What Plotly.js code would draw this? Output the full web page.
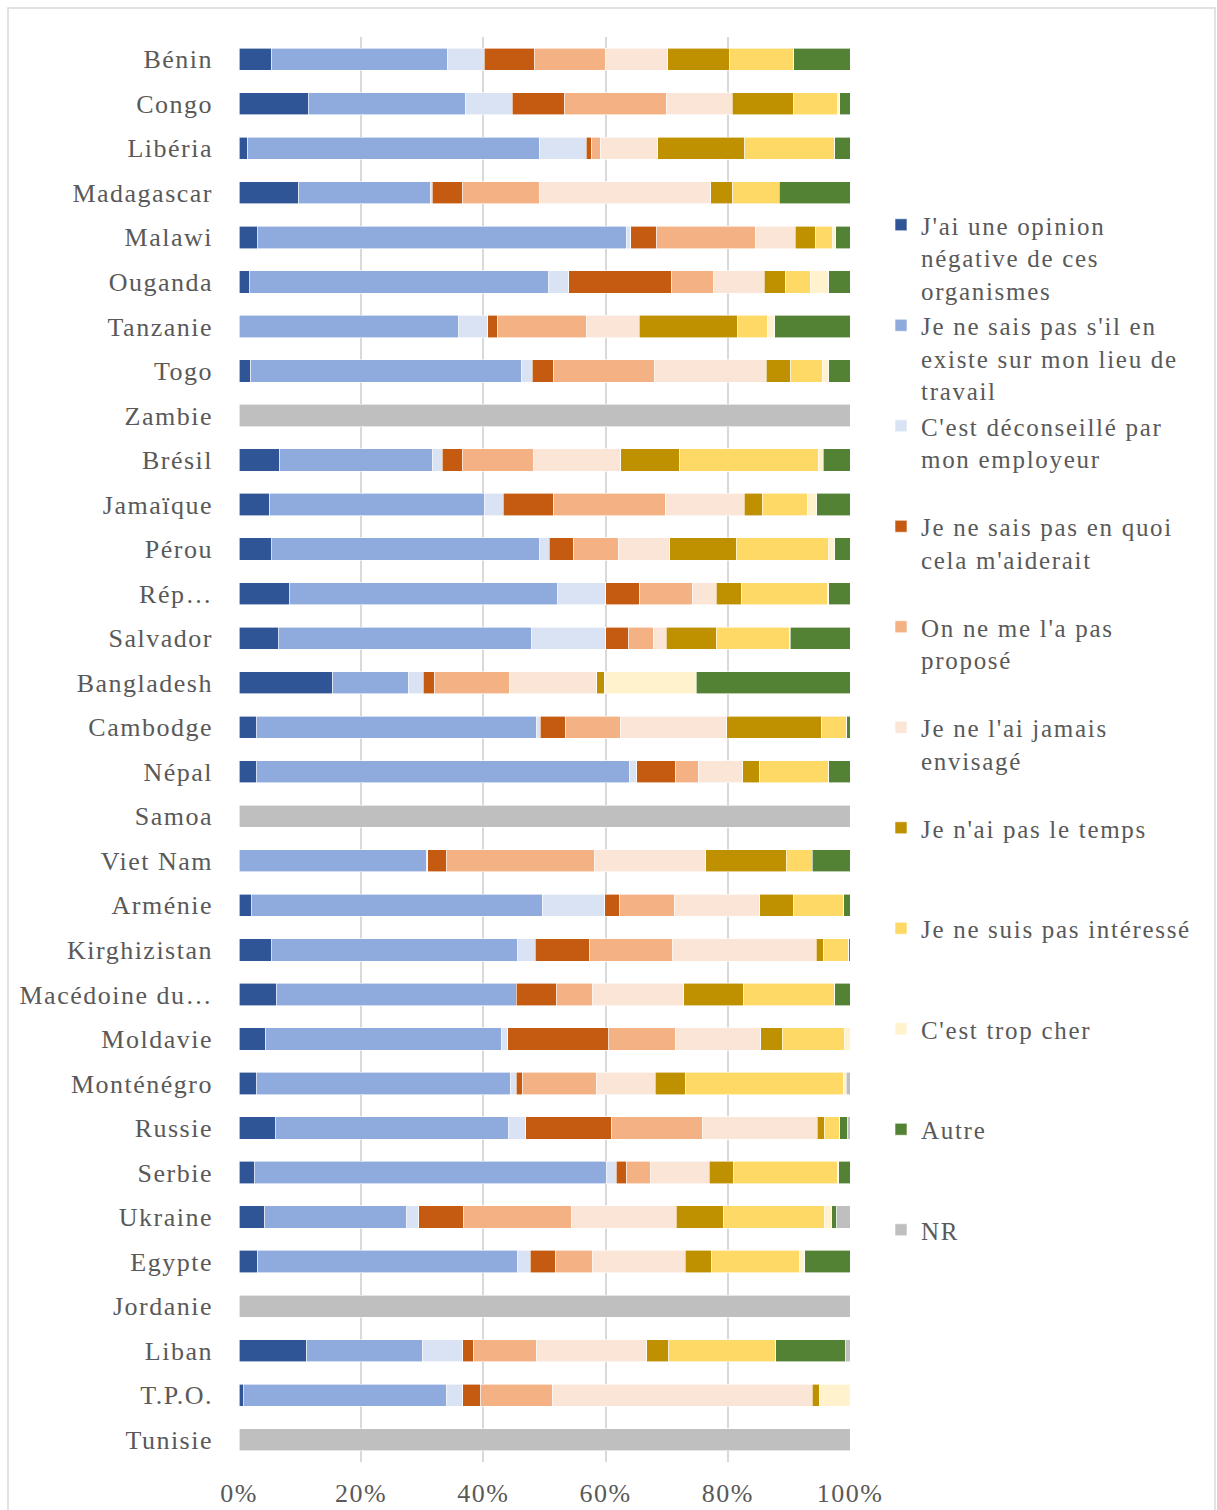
<!DOCTYPE html>
<html>
<head>
<meta charset="utf-8">
<script src="https://cdn.plot.ly/plotly-3.0.1.min.js"></script>
<style>
html,body{margin:0;padding:0;background:#fff;}
#chart{width:1217px;height:1510px;}
#chart .ytick text{letter-spacing:1.5px;}
#chart .xtick text{letter-spacing:1.5px;}
.legendtext{letter-spacing:1.7px;}
</style>
</head>
<body>
<div id="chart"></div>
<script>
const countries = ["Bénin","Congo","Libéria","Madagascar","Malawi","Ouganda","Tanzanie","Togo","Zambie","Brésil","Jamaïque","Pérou","Rép…","Salvador","Bangladesh","Cambodge","Népal","Samoa","Viet Nam","Arménie","Kirghizistan","Macédoine du…","Moldavie","Monténégro","Russie","Serbie","Ukraine","Egypte","Jordanie","Liban","T.P.O.","Tunisie"];

const seriesNames = [
  "J'ai une opinion<br>négative de ces<br>organismes",
  "Je ne sais pas s'il en<br>existe sur mon lieu de<br>travail",
  "C'est déconseillé par<br>mon employeur<br>&nbsp;",
  "Je ne sais pas en quoi<br>cela m'aiderait<br>&nbsp;",
  "On ne me l'a pas<br>proposé<br>&nbsp;",
  "Je ne l'ai jamais<br>envisagé<br>&nbsp;",
  "Je n'ai pas le temps<br>&nbsp;<br>&nbsp;",
  "Je ne suis pas intéressé<br>&nbsp;<br>&nbsp;",
  "C'est trop cher<br>&nbsp;<br>&nbsp;",
  "Autre<br>&nbsp;<br>&nbsp;",
  "NR"
];

const opinionNegative = [5.4,11.3,1.4,9.8,3.0,1.7,0,1.9,0,6.7,5.0,5.3,8.2,6.4,15.3,2.8,2.8,0,0,2.0,5.3,6.1,4.4,2.8,5.9,2.5,4.2,3.1,0,11.1,0.7,0];
const neSaisPasSilExiste = [28.7,25.7,47.7,21.6,60.5,49.0,36.0,44.3,0,24.9,35.1,43.9,43.9,41.5,12.4,45.9,61.0,0,30.7,47.7,40.3,39.3,38.5,41.6,38.2,57.6,23.2,42.5,0,18.9,33.3,0];
const deconseille = [6.0,7.7,7.7,0.2,0.6,3.3,4.7,1.7,0,1.6,3.1,1.6,7.9,12.1,2.4,0.6,1.2,0,0.2,10.2,2.9,0,1.0,1.0,2.8,1.6,2.0,2.1,0,6.6,2.6,0];
const enQuoiAiderait = [8.2,8.6,0.9,5.0,4.3,16.8,1.6,3.5,0,3.3,8.2,4.0,5.5,3.8,1.9,4.1,6.3,0,3.0,2.4,8.9,6.5,16.5,1.0,14.0,1.7,7.3,4.1,0,1.7,3.0,0];
const pasPropose = [11.7,16.6,1.4,12.6,16.1,6.9,14.6,16.5,0,11.7,18.2,7.3,8.6,4.0,12.3,9.0,3.8,0,24.3,9.0,13.6,6.0,10.9,12.1,15.0,3.9,17.6,6.1,0,10.3,11.7,0];
const jamaisEnvisage = [10.2,10.8,9.4,28.0,6.5,8.3,8.6,18.2,0,14.2,12.9,8.4,3.9,2.1,14.2,17.4,7.3,0,18.2,14.0,23.5,14.9,14.0,9.6,18.7,9.6,17.2,15.1,0,18.1,42.5,0];
const pasLeTemps = [10.1,10.1,14.2,3.6,3.3,3.4,16.1,4.0,0,9.6,3.0,10.9,4.1,8.2,1.3,15.5,2.7,0,13.2,5.6,1.1,9.8,3.5,5.0,1.2,4.0,7.7,4.4,0,3.6,1.2,0];
const pasInteresse = [10.5,7.2,14.7,7.6,2.9,4.2,4.9,5.2,0,22.7,7.3,15.1,14.2,12.0,0,4.1,11.3,0,4.2,8.1,4.2,14.8,10.2,25.9,2.4,17.0,16.5,14.3,0,17.4,0,0];
const tropCher = [0,0.3,0,0,0.5,2.9,1.2,1.0,0,0.8,1.6,1.0,0.1,0.1,15.0,0.1,0,0,0,0.1,0,0.1,0.9,0.4,0.1,0.2,1.2,0.9,0,0.1,5.0,0];
const autre = [9.2,1.7,2.5,11.6,2.3,3.5,12.3,3.5,0,4.4,5.4,2.5,3.5,9.8,25.1,0.5,3.5,0,6.2,1.0,0.2,2.5,0,0,1.3,1.8,0.8,7.4,0,11.3,0,0];
const nr = [0,0,0,0,0,0,0,0,100,0,0,0,0,0,0,0,0,100,0,0,0,0,0,0.6,0.4,0,2.2,0,100,0.8,0,100];

const seriesValues = [opinionNegative, neSaisPasSilExiste, deconseille, enQuoiAiderait, pasPropose, jamaisEnvisage, pasLeTemps, pasInteresse, tropCher, autre, nr];
const colors = ["#2F5597","#8FAADC","#DAE3F3","#C55A11","#F4B183","#FBE5D6","#BF9000","#FFD966","#FFF2CC","#548235","#BFBFBF"];

const traces = seriesValues.map((vals, i) => ({
  type: "bar",
  orientation: "h",
  name: seriesNames[i],
  x: vals,
  y: countries,
  marker: { color: colors[i], line: { color: "#ffffff", width: 0.6 } },
  hoverinfo: "x+y+name"
}));

const P = {l:239, r:850, t:37, b:1462};
const W = P.r - P.l, H = P.b - P.t;
const px = v => (v - P.l) / W;
const py = v => (P.b - v) / H;

const layout = {
  width: 1217,
  height: 1510,
  margin: { l: 239, r: 1217 - 850, t: 37, b: 1510 - 1462, pad: 0 },
  paper_bgcolor: "#ffffff",
  plot_bgcolor: "#ffffff",
  font: { family: "Liberation Serif, 'Times New Roman', serif", size: 26, color: "#595959" },
  barmode: "stack",
  barnorm: "percent",
  bargap: 0.5,
  showlegend: true,
  xaxis: {
    range: [0, 100],
    tick0: 0,
    dtick: 20,
    ticksuffix: "%",
    showgrid: true,
    gridcolor: "#d9d9d9",
    gridwidth: 2,
    zeroline: false,
    showline: false,
    ticks: "",
    ticklabelstandoff: 13,
    fixedrange: true
  },
  yaxis: {
    type: "category",
    categoryorder: "array",
    categoryarray: countries,
    autorange: "reversed",
    showgrid: false,
    zeroline: false,
    showline: false,
    ticks: "",
    ticklabelstandoff: 25,
    fixedrange: true
  },
  legend: {
    x: px(881),
    xanchor: "left",
    y: py(202),
    yanchor: "top",
    valign: "top",
    traceorder: "normal",
    bgcolor: "rgba(0,0,0,0)",
    font: { size: 25, color: "#595959" }
  },
  shapes: [{
    type: "rect", xref: "paper", yref: "paper",
    x0: px(8), x1: px(1215), y0: py(1530), y1: py(8),
    line: { color: "#d9d9d9", width: 1.5 },
    fillcolor: "rgba(0,0,0,0)",
    layer: "below"
  }]
};

Plotly.newPlot("chart", traces, layout, { displayModeBar: false, staticPlot: true });
</script>
</body>
</html>
